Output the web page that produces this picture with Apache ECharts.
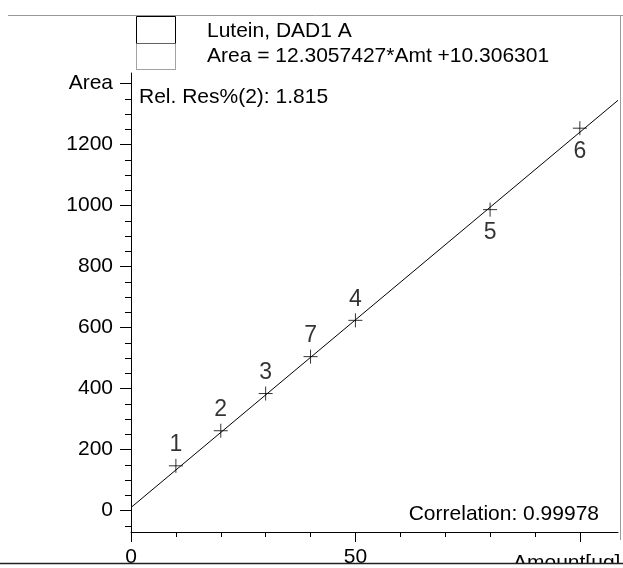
<!DOCTYPE html>
<html lang="en" style="height: 100%">
<head>
  <meta charset="utf-8">
</head>
<body style="height: 100%; margin: 0; background: #fff">
  <div id="container" style="width: 623px; height: 568px"></div>

  <script type="text/javascript" src="https://cdn.jsdelivr.net/npm/echarts@6.0.0/dist/echarts.min.js"></script>

  <script type="text/javascript">
    var dom = document.getElementById('container');
    var myChart = echarts.init(dom, null, { renderer: 'canvas' });

    // calibration levels (label, amount, area)
    const levelNames = ['1', '2', '3', '7', '4', '5', '6'];
    const amounts = [10, 20, 30, 40, 50, 80, 100];
    const areas = [147, 262, 384, 505, 624, 987, 1254];

    // fit from the header text
    const slope = 12.3057427;
    const intercept = 10.306301;
    const fitRange = [0, 108.5];

    const yMajorTicks = [0, 200, 400, 600, 800, 1000, 1200, 1400];
    const yMinorTicks = [-50, 0, 50, 100, 150, 200, 250, 300, 350, 400, 450, 500, 550, 600, 650, 700,
      750, 800, 850, 900, 950, 1000, 1050, 1100, 1150, 1200, 1250, 1300, 1350, 1400];
    const xMajorTicks = [0, 50, 100];
    const xMinorTicks = [0, 10, 20, 30, 40, 50, 60, 70, 80, 90, 100];
    const xLabels = [0, 50];

    const labelsBelow = ['5', '6'];
    const font = 'Liberation Sans, Arial, sans-serif';

    const points = amounts.map(function (x, i) {
      const below = labelsBelow.includes(levelNames[i]);
      return {
        name: levelNames[i],
        value: [x, areas[i]],
        label: { position: below ? 'bottom' : 'top', distance: below ? 2 : 0 }
      };
    });

    const fitLine = fitRange.map(function (x) {
      return [x, slope * x + intercept];
    });

    const yBase = { type: 'value', min: -70, max: 1435, position: 'left', splitLine: { show: false } };
    const xBase = { type: 'value', min: 0, max: fitRange[1], position: 'bottom', splitLine: { show: false } };

    var option = {
      animation: false,
      grid: { left: 131, right: 5, top: 73, bottom: 35 },
      xAxis: [
        Object.assign({}, xBase, {
          axisLine: { onZero: false, lineStyle: { color: '#000', width: 1 } },
          axisTick: { customValues: xMinorTicks, length: 5, lineStyle: { color: '#000' } },
          axisLabel: { show: false }
        }),
        Object.assign({}, xBase, {
          axisLine: { show: false, onZero: false },
          axisTick: { customValues: xMajorTicks, length: 10, lineStyle: { color: '#000' } },
          axisLabel: {
            customValues: xLabels, margin: 15, color: '#000',
            fontFamily: font, fontSize: 21
          }
        })
      ],
      yAxis: [
        Object.assign({}, yBase, {
          axisLine: { show: true, onZero: false, lineStyle: { color: '#000', width: 1 } },
          axisTick: { show: true, customValues: yMinorTicks, length: 6, lineStyle: { color: '#000' } },
          axisLabel: { show: false }
        }),
        Object.assign({}, yBase, {
          axisLine: { show: false, onZero: false },
          axisTick: { show: true, customValues: yMajorTicks, length: 11, lineStyle: { color: '#000' } },
          axisLabel: {
            customValues: yMajorTicks, margin: 18, color: '#000',
            fontFamily: font, fontSize: 21,
            formatter: function (v) { return v === 1400 ? 'Area' : String(v); }
          }
        })
      ],
      series: [
        {
          type: 'line',
          data: fitLine,
          symbol: 'none',
          lineStyle: { color: '#000', width: 1 },
          silent: true
        },
        {
          type: 'scatter',
          data: points,
          symbol: 'path://M7,0L7,14M0,7L14,7',
          symbolSize: 14,
          itemStyle: { color: 'none', borderColor: '#000', borderWidth: 1 },
          label: {
            show: true,
            formatter: '{b}',
            color: '#000',
            textBorderWidth: 0,
            fontFamily: font,
            fontSize: 23
          }
        }
      ],
      graphic: {
        elements: [
          // frame
          { type: 'line', shape: { x1: 8, y1: 15.5, x2: 623, y2: 15.5 }, style: { stroke: '#999', lineWidth: 1 } },
          { type: 'line', shape: { x1: 620.5, y1: 15, x2: 620.5, y2: 540 }, style: { stroke: '#999', lineWidth: 1 } },
          // legend boxes
          { type: 'rect', shape: { x: 136.5, y: 16.5, width: 39, height: 27 }, style: { fill: '#fff', stroke: '#000', lineWidth: 1 } },
          { type: 'rect', shape: { x: 136.5, y: 43.5, width: 39, height: 26 }, style: { fill: '#fff', stroke: '#444', lineWidth: 1, lineDash: [1, 1] } },
          { type: 'text', x: 207, y: 31, style: { text: 'Lutein, DAD1 A', font: '21px ' + font, fill: '#000', verticalAlign: 'middle' } },
          { type: 'text', x: 207, y: 56, style: { text: 'Area = 12.3057427*Amt +10.306301', font: '21px ' + font, fill: '#000', verticalAlign: 'middle' } },
          { type: 'text', x: 139, y: 97, style: { text: 'Rel. Res%(2): 1.815', font: '21px ' + font, fill: '#000', verticalAlign: 'middle' } },
          { type: 'text', x: 599, y: 514, style: { text: 'Correlation: 0.99978', font: '21px ' + font, fill: '#000', align: 'right', verticalAlign: 'middle' } },
          { type: 'text', x: 513, y: 553, style: { text: 'Amount[ug]', font: '21px ' + font, fill: '#000', verticalAlign: 'top' } },
          // bottom border, cuts the axis text
          { type: 'rect', z: 100, shape: { x: 0, y: 564, width: 623, height: 4 }, style: { fill: '#fff' } },
          { type: 'line', z: 101, shape: { x1: 0, y1: 563.5, x2: 623, y2: 563.5 }, style: { stroke: '#222', lineWidth: 1.5 } }
        ]
      }
    };

    myChart.setOption(option);
    window.addEventListener('resize', myChart.resize);
  </script>
</body>
</html>
